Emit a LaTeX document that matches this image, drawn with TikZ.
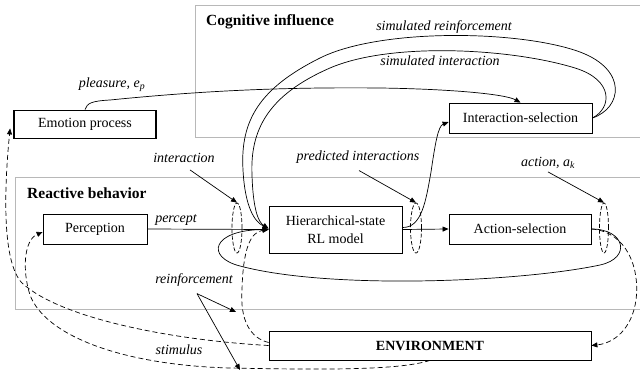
\documentclass[tikz,border=0pt]{standalone}
\usepackage{fontspec}
\setmainfont{Liberation Serif}
\usetikzlibrary{arrows.meta,shapes.geometric}
\tikzset{
 box/.style={draw, line width=0.8pt, inner sep=0pt, font=\fontsize{14}{18}\selectfont, align=center},
 region/.style={draw=black!28, line width=0.8pt},
 conn/.style={line width=0.7pt, -{Triangle[length=6pt,width=5pt]}},
 dconn/.style={conn, dash pattern=on 5pt off 3pt},
 lab/.style={font=\fontsize{14}{16}\selectfont\itshape, inner sep=1pt},
 head/.style={font=\fontsize{15.5}{18}\selectfont\bfseries, inner sep=0pt, anchor=west},
 ring/.style={draw, ellipse, dash pattern=on 4pt off 2pt, line width=0.7pt, inner sep=0pt}
}
\begin{document}
\begin{tikzpicture}[x=1pt,y=-1pt]
\useasboundingbox (0,0) rectangle (640,372);
% regions
\draw[region] (640,5) -- (195,5) -- (195,137) -- (640,137);
\draw[region] (640,177) -- (15,177) -- (15,309) -- (640,309);
\node[head] (hcog) at (206,22) {Cognitive influence};
\node[head] (hrea) at (27,193) {Reactive behavior};
% boxes
\node[box, line width=1.8pt, minimum width=142pt, minimum height=28pt] (Emo) at (85,124.5) {Emotion process};
\node[box, minimum width=143pt, minimum height=30pt] (IS) at (520.5,118) {Interaction-selection};
\node[box, minimum width=104pt, minimum height=30pt] (Perc) at (95,229) {Perception};
\node[box, minimum width=133pt, minimum height=47pt] (HRL) at (335.5,229.5) {Hierarchical-state\\RL model};
\node[box, minimum width=142pt, minimum height=30pt] (AS) at (520,229) {Action-selection};
\node[box, minimum width=322pt, minimum height=29pt, font=\fontsize{14}{18}\selectfont\bfseries] (ENV) at (430,345.5) {ENVIRONMENT};
% rings
\node[ring, minimum width=10pt, minimum height=50pt] (e1) at (237,228) {};
\node[ring, minimum width=11pt, minimum height=50pt] (e2) at (416,228) {};
\node[ring, minimum width=9pt, minimum height=50pt] (e3) at (604,228) {};
% labels
\node[lab] (lsr) at (444,27) {simulated reinforcement};
\node[lab] (lsi) at (440,61) {simulated interaction};
\node[lab] (lple) at (112,85) {pleasure, e\textsubscript{p}};
\node[lab] (lint) at (184,158) {interaction};
\node[lab] (lpred) at (358,157) {predicted interactions};
\node[lab] (lact) at (548,163) {action, a\textsubscript{k}};
\node[lab] (lper) at (176,220) {percept};
\node[lab] (lrein) at (194,280) {reinforcement};
\node[lab] (lsti) at (179,350) {stimulus};
% free ends / tips
\coordinate (emotip) at ([xshift=-3pt,yshift=11pt]Emo.south west);
\coordinate (perctip) at ([yshift=-3pt]Perc.west);
\coordinate (r1) at (236,312);
\coordinate (r2) at (240,370);
% solid connectors
\draw[conn] (Perc.east) -- (HRL.west);
\draw[conn] (HRL.east) -- (AS.west);
\draw[conn] ([yshift=2pt]HRL.east) .. controls (422,228) and (426,200) .. (431,172) .. controls (435,145) and (438,126) .. ([yshift=-4pt]IS.west);
\draw[conn] (AS.east) .. controls (625,229) and (632,258) .. (600,265) .. controls (520,282) and (330,290) .. (240,266) .. controls (205,257) and (212,230) .. (HRL.west);
\draw[conn] (IS.east) .. controls (622,108) and (628,70) .. (580,52) .. controls (520,30) and (380,28) .. (320,58) .. controls (260,88) and (240,120) .. (243,170) .. controls (245,208) and (255,222) .. ([yshift=1pt]HRL.west);
\draw[conn] (IS.east) .. controls (612,108) and (614,80) .. (575,68) .. controls (510,48) and (390,42) .. (330,68) .. controls (268,95) and (250,130) .. (252,175) .. controls (253,208) and (258,222) .. ([yshift=1pt]HRL.west);
\draw[conn] (Emo.north) .. controls (87,103) and (92,101) .. (110,100) .. controls (200,91) and (280,87) .. (380,88) .. controls (450,89) and (505,94) .. (IS.north);
% pointers
\draw[conn] ([shift={(6,6)}]lint.south) -- (e1.north);
\draw[conn] ([shift={(1,6)}]lpred.south) -- (e2.north);
\draw[conn] ([shift={(0,2)}]lact.south) -- (e3.north);
\draw[conn] ([shift={(3,6)}]lrein.south) -- (r1);
\draw[conn] ([shift={(3,6)}]lrein.south) -- (r2);
% dashed
\draw[dconn] (AS.east) .. controls (628,232) and (640,270) .. (636,300) .. controls (632,328) and (615,343) .. (ENV.east);
\draw[dconn] (ENV.west) .. controls (170,340) and (60,318) .. (22,283) .. controls (2,262) and (4,190) .. (emotip);
\draw[dconn] (ENV.south) .. controls (400,370) and (330,370) .. (230,368) .. controls (120,365) and (45,335) .. (30,295) .. controls (22,270) and (24,240) .. (perctip);
\draw[dconn] ([yshift=3pt]ENV.west) .. controls (250,338) and (240,320) .. (242,290) .. controls (243,250) and (250,232) .. (HRL.west);
\end{tikzpicture}
\end{document}
